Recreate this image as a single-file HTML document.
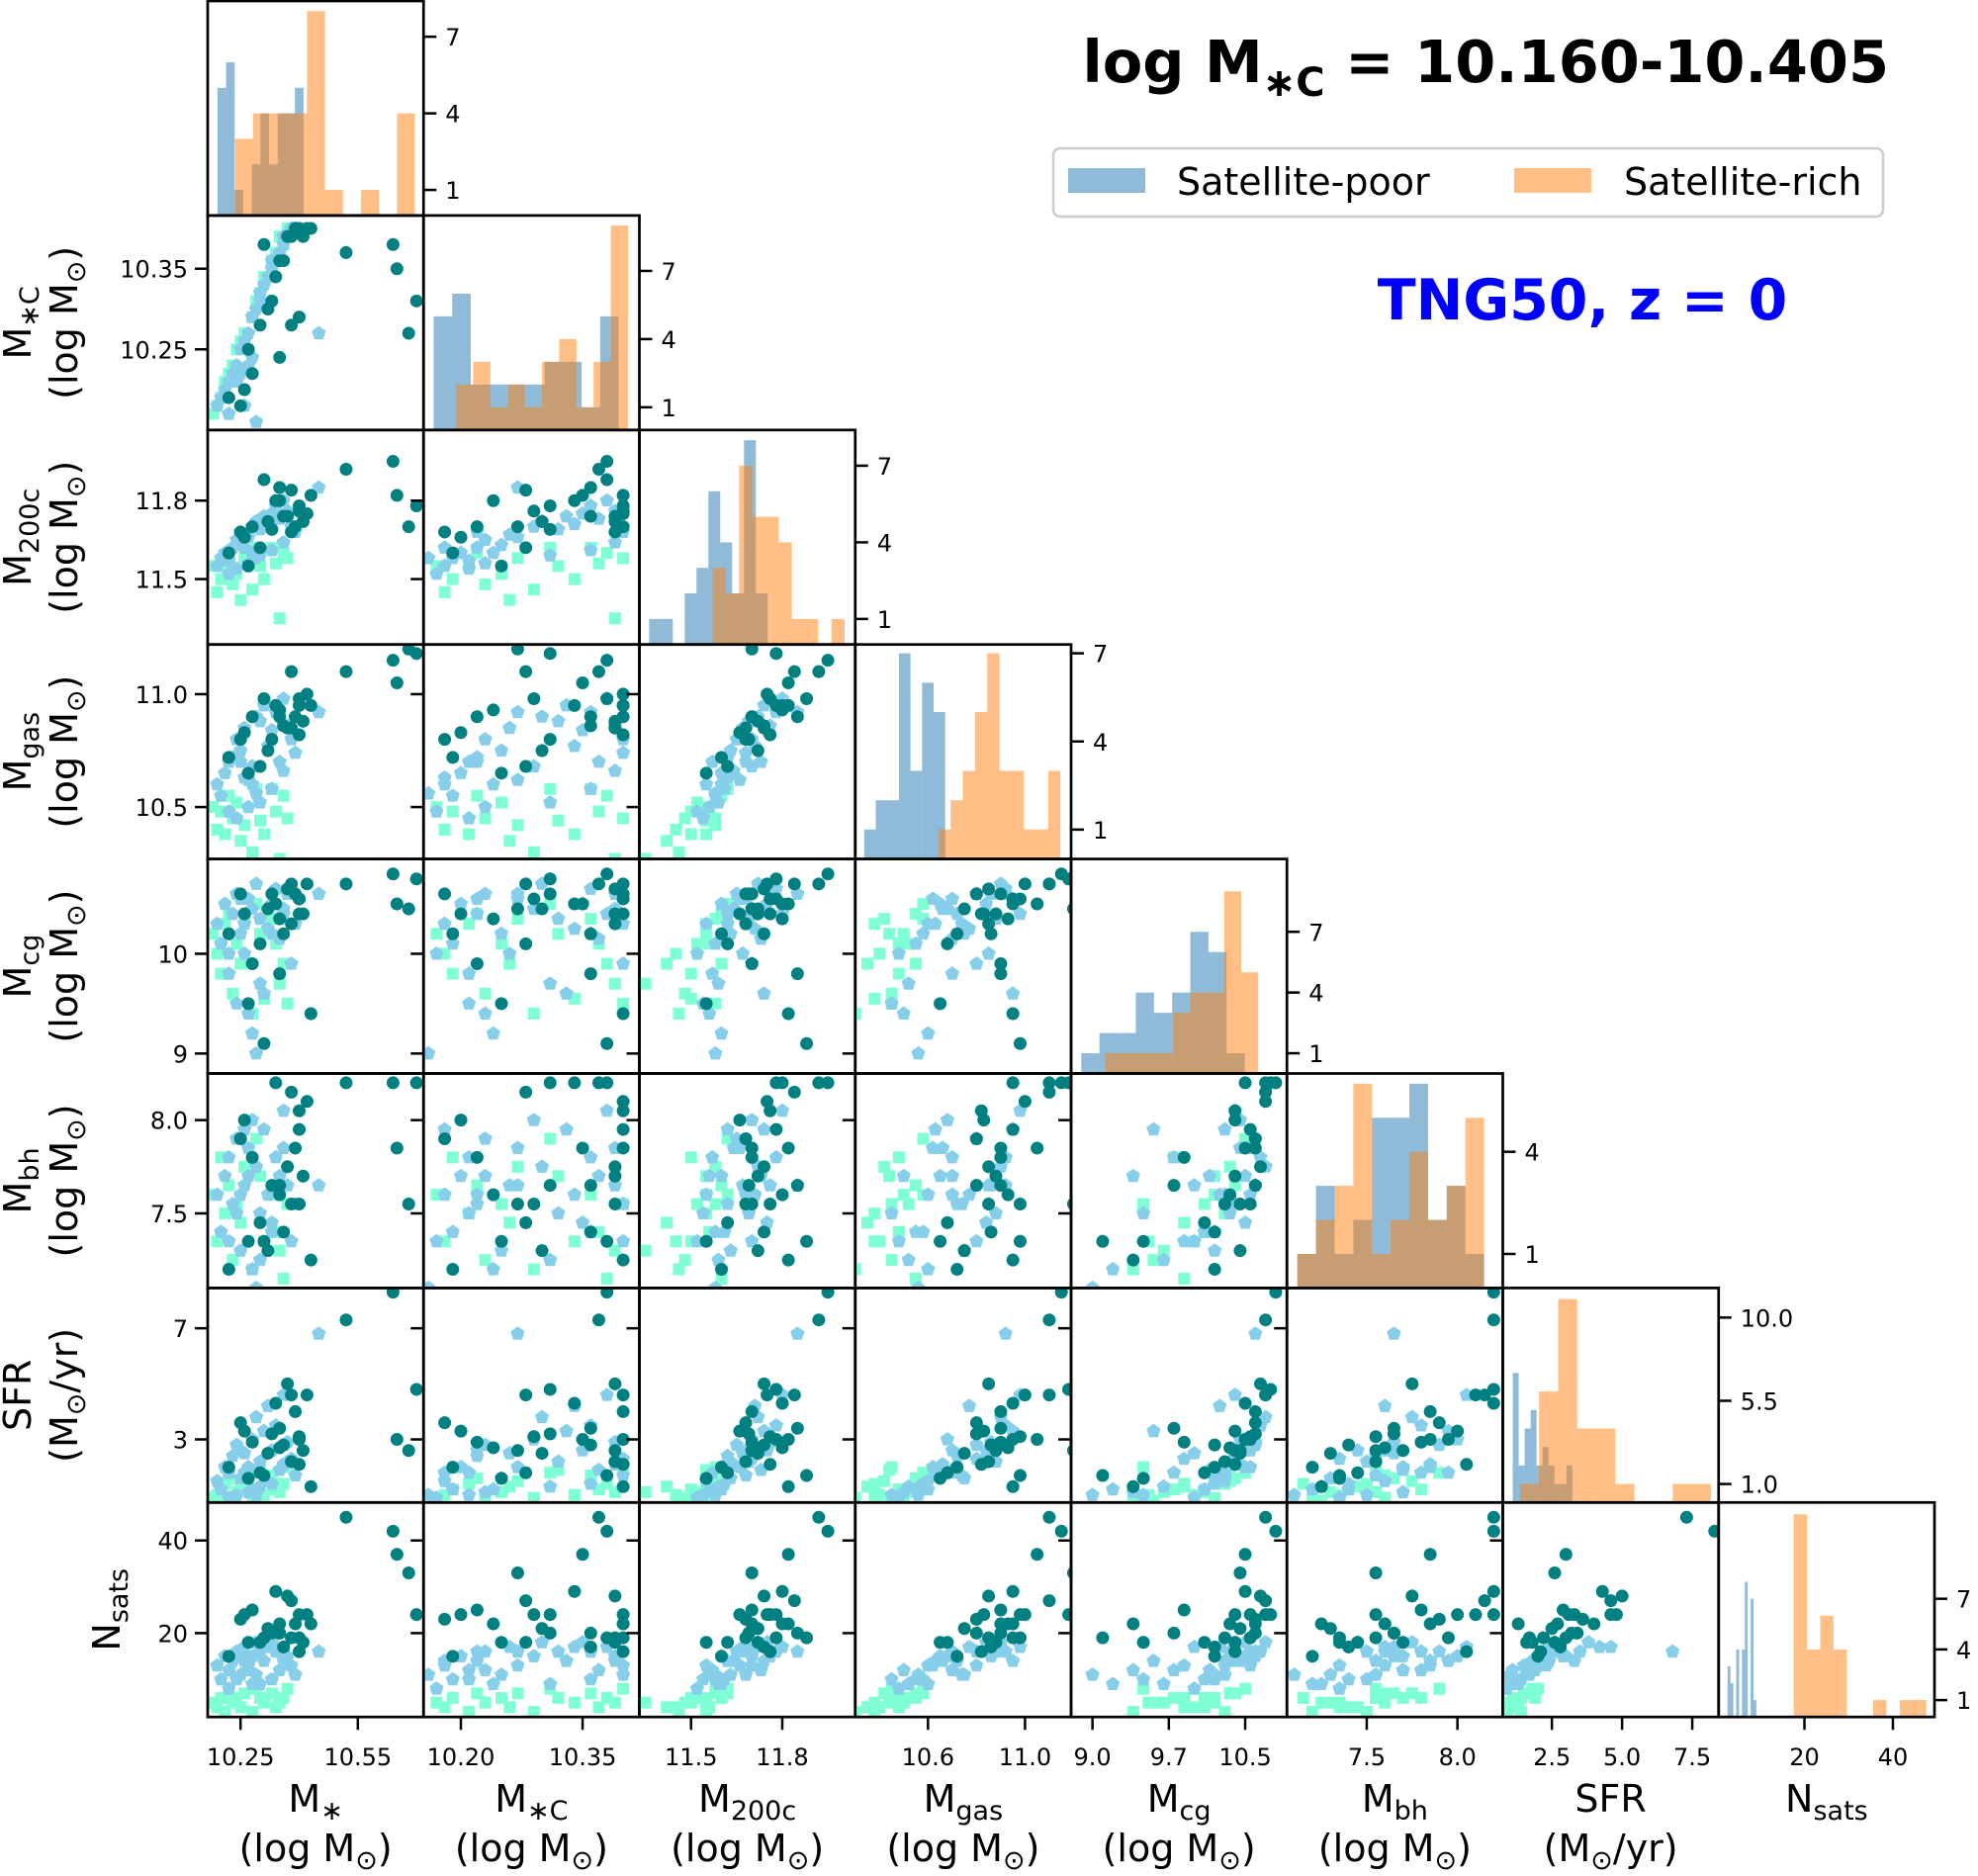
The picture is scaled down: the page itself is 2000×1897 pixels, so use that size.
<!DOCTYPE html>
<html><head><meta charset="utf-8"><style>
html,body{margin:0;padding:0;background:#fff;}
svg{display:block;font-family:"DejaVu Sans","Liberation Sans",sans-serif;}
</style></head><body>
<svg id="fig" xmlns="http://www.w3.org/2000/svg" width="2000" height="1897" viewBox="0 0 2000 1897">
<g id="panels"></g>
<text x="1910" y="83" text-anchor="end" font-size="59" font-weight="bold">log M<tspan font-size="40" dy="14">∗C</tspan><tspan dy="-14"> = 10.160-10.405</tspan></text>
<g>
<rect x="1065" y="150" width="839" height="69" rx="7" fill="#fff" stroke="#ccc" stroke-width="2.5"/>
<rect x="1080" y="170" width="78" height="25" fill="#1f77b4" opacity="0.5"/>
<text x="1190" y="197" font-size="38">Satellite-poor</text>
<rect x="1531" y="170" width="78" height="25" fill="#ff7f0e" opacity="0.5"/>
<text x="1642" y="197" font-size="38">Satellite-rich</text>
</g>
<text x="1600" y="323" text-anchor="middle" font-size="57" font-weight="bold" fill="#0000ff">TNG50, z = 0</text>
</svg>
<script>
// ---------- data ----------
const xRange = [[10.166,10.718],[10.154,10.42],[11.33,12.04],[10.30,11.19],[8.79,10.91],[7.06,8.25],[0.75,8.44],[0.6,49.4]];
const yRange = [[0,1],[10.15,10.416],[11.25,12.07],[10.27,11.22],[8.80,10.95],[7.10,8.25],[0.73,8.45],[1.9,48.2]];
const xTicks = [[10.25,10.55],[10.20,10.35],[11.5,11.8],[10.6,11.0],[9.0,9.75,10.5],[7.5,8.0],[2.5,5.0,7.5],[20,40]];
const xTickLabels = [["10.25","10.55"],["10.20","10.35"],["11.5","11.8"],["10.6","11.0"],["9.0","9.7","10.5"],["7.5","8.0"],["2.5","5.0","7.5"],["20","40"]];
const yTicks = [[],[10.25,10.35],[11.5,11.8],[10.5,11.0],[9,10],[7.5,8.0],[3,7],[20,40]];
const yTickLabels = [[],["10.25","10.35"],["11.5","11.8"],["10.5","11.0"],["9","10"],["7.5","8.0"],["3","7"],["20","40"]];
const histMax = [8.4,9.44,8.4,7.3,10.6,6.3,11.6,12.7];
const histTicks = [[1,4,7],[1,4,7],[1,4,7],[1,4,7],[1,4,7],[1,4],[1.0,5.5,10.0],[1,4,7]];
const histTickLabels = [["1","4","7"],["1","4","7"],["1","4","7"],["1","4","7"],["1","4","7"],["1","4"],["1.0","5.5","10.0"],["1","4","7"]];
const poorStart = [10.191,10.1665,11.362,10.337,8.89,7.117,1.104,2.62];
const poorWidth = [0.022,0.0228,0.039,0.0477,0.1785,0.103,0.2126,0.651];
const poorCounts = [[5,6,1,0,2,4,2,4,4,5],[5,6,2,2,2,2,3,3,1,5],[1,1,0,2,3,6,4,2,8,2],[1,2,2,7,3,6,5],[1,2,2,4,3,4,7,6,1],[1,3,1,2,5,5,6,2,3,1],[7,2,4,5,2,3,2,1,1,2],[3,2,0,4,0,4,8,0,7,1]];
const richStart = [10.236,10.194,11.571,10.643,9.125,7.117,1.363,17.58];
const richWidth = [0.046,0.0212,0.0434,0.0503,0.167,0.103,0.680,2.994];
const richCounts = [[3,4,4,4,8,1,0,1,0,4],[2,3,1,2,1,3,4,1,3,9],[3,2,7,5,5,4,1,1,0,1],[1,2,3,5,7,3,3,1,1,3],[1,1,1,1,3,4,4,9,5],[1,2,3,6,1,2,4,2,3,5],[1,6,11,4,4,1,0,0,1,1],[12,4,6,4,0,0,1,0,1,1]];

const tealMstar  = [10.40,10.41,10.39,10.42,10.38,10.36,10.34,10.33,10.32,10.30,10.28,10.26,10.22,10.25,10.27,10.38,10.40,10.35,10.52,10.64,10.65,10.70,10.68,10.31,10.43,10.37,10.35,10.40];
const tealMstarC = [10.40,10.39,10.40,10.40,10.39,10.36,10.34,10.31,10.30,10.28,10.22,10.20,10.19,10.18,10.25,10.28,10.29,10.24,10.37,10.38,10.35,10.31,10.27,10.38,10.40,10.39,10.36,10.40];
const tealM200c  = [11.78,11.72,11.70,11.75,11.68,11.74,11.80,11.69,11.72,11.62,11.70,11.66,11.60,11.68,11.55,11.84,11.76,11.80,11.92,11.95,11.82,11.78,11.70,11.88,11.82,11.74,11.85,11.76];
const tealMgas   = [10.95,10.88,10.90,11.00,10.85,10.86,10.95,10.80,10.75,10.68,10.90,10.83,10.72,10.80,10.65,11.10,10.98,10.93,11.10,11.15,11.05,11.18,11.20,10.98,10.95,10.85,10.90,10.82];
const tealMcg    = [10.55,10.40,10.60,10.70,10.30,10.20,10.50,10.60,10.45,10.10,9.90,10.40,10.20,10.60,9.50,10.70,10.55,10.35,10.70,10.80,10.50,10.75,10.45,9.10,9.40,10.65,9.80,10.40];
const tealMbh    = [7.95,7.70,7.85,8.10,7.55,7.40,8.20,7.65,7.30,7.45,7.80,8.00,7.20,7.90,7.35,8.15,7.55,7.60,8.20,8.20,7.85,8.20,7.55,7.35,7.25,7.75,7.65,8.05];
const tealSFR    = [3.0,2.6,4.0,4.6,2.2,2.8,4.3,3.2,2.5,1.8,2.9,3.3,2.0,3.6,1.6,4.6,3.1,2.7,7.3,8.3,3.0,4.8,2.6,1.7,1.3,5.0,3.4,2.1];
const tealNsats  = [19,18,22,24,19,17,29,20,21,18,25,24,15,23,18,27,24,22,45,42,37,24,33,19,22,28,20,16];

const blueMstar  = [10.19,10.20,10.21,10.22,10.23,10.24,10.25,10.26,10.27,10.28,10.29,10.30,10.31,10.32,10.33,10.34,10.35,10.36,10.37,10.38,10.39,10.36,10.33,10.30,10.27,10.24,10.28,10.26,10.22,10.25,10.45,10.29];
const blueMstarC = [10.18,10.19,10.20,10.21,10.22,10.23,10.25,10.26,10.27,10.29,10.30,10.32,10.33,10.34,10.35,10.36,10.37,10.38,10.39,10.40,10.40,10.39,10.36,10.31,10.23,10.21,10.24,10.18,10.17,10.22,10.27,10.16];
const blueM200c  = [11.55,11.58,11.60,11.57,11.62,11.65,11.63,11.67,11.66,11.70,11.72,11.69,11.74,11.71,11.75,11.78,11.73,11.80,11.76,11.70,11.68,11.64,11.61,11.59,11.56,11.54,11.60,11.62,11.52,11.68,11.85,11.58];
const blueMgas   = [10.60,10.55,10.65,10.70,10.72,10.80,10.75,10.85,10.62,10.68,10.90,10.88,10.95,10.77,10.84,10.92,10.70,10.98,10.86,10.80,10.74,10.66,10.58,10.52,10.50,10.45,10.60,10.63,10.48,10.70,10.92,10.56];
const blueMcg    = [10.30,10.10,10.50,9.80,10.40,10.60,10.20,10.00,10.55,10.45,10.70,10.35,9.60,10.25,10.50,10.65,10.15,10.40,10.60,9.90,10.30,10.45,10.20,9.70,9.40,9.50,9.20,10.30,10.00,10.55,10.60,9.00];
const blueMbh    = [7.60,7.40,7.70,7.80,7.55,7.90,7.30,7.65,7.85,8.00,7.75,7.50,7.95,7.60,7.45,7.80,7.70,8.05,7.65,7.35,7.55,7.85,7.40,7.25,7.70,7.50,7.20,7.95,7.35,7.60,7.65,7.10];
const blueSFR    = [1.5,1.2,2.0,1.8,2.4,2.8,1.6,2.5,2.0,3.0,3.8,2.2,3.3,4.2,2.6,3.5,1.9,4.6,2.9,2.3,1.7,2.1,1.4,1.3,1.1,1.0,1.2,1.8,0.9,2.6,6.8,1.0];
const blueNsats  = [13,10,15,12,14,16,11,17,13,15,18,16,14,17,18,16,12,17,15,13,11,14,10,9,12,10,9,14,8,16,16,11];

const aquaMstar  = [10.18,10.19,10.20,10.21,10.22,10.23,10.24,10.25,10.26,10.28,10.29,10.30,10.31,10.33,10.34,10.36,10.35,10.37];
const aquaMstarC = [10.17,10.18,10.19,10.21,10.22,10.23,10.25,10.26,10.27,10.29,10.31,10.32,10.34,10.36,10.37,10.38,10.39,10.40];
const aquaM200c  = [11.55,11.45,11.50,11.55,11.60,11.48,11.52,11.42,11.58,11.46,11.62,11.55,11.50,11.62,11.56,11.60,11.35,11.58];
const aquaMgas   = [10.50,10.40,10.48,10.38,10.55,10.45,10.52,10.35,10.42,10.30,10.58,10.44,10.38,10.58,10.48,10.55,10.27,10.45];
const aquaMcg    = [10.20,10.00,9.80,10.30,10.40,9.60,10.10,9.90,10.35,9.40,10.50,10.20,9.55,10.35,10.10,9.90,9.70,9.50];
const aquaMbh    = [7.60,7.35,7.80,7.50,7.65,7.25,7.55,7.45,7.75,7.20,7.90,7.70,7.35,7.60,7.40,7.15,7.30,7.55];
const aquaSFR    = [0.9,1.0,1.2,1.4,1.6,0.8,1.1,1.3,1.5,0.9,1.8,1.9,1.0,1.7,1.2,1.4,1.1,2.0];
const aquaNsats  = [5,4,6,3,7,5,6,4,7,3,8,6,5,7,4,6,5,8];

const tealVars = [tealMstar,tealMstarC,tealM200c,tealMgas,tealMcg,tealMbh,tealSFR,tealNsats];
const blueVars = [blueMstar,blueMstarC,blueM200c,blueMgas,blueMcg,blueMbh,blueSFR,blueNsats];
const aquaVars = [aquaMstar,aquaMstarC,aquaM200c,aquaMgas,aquaMcg,aquaMbh,aquaSFR,aquaNsats];

// ---------- layout ----------
const NS = "http://www.w3.org/2000/svg";
const X0 = 210, Y0 = 1, CW = 218.25, CH = 216.9, N = 8;
const root = document.getElementById('panels');
function mk(tag, attrs, parent){ const e=document.createElementNS(NS,tag); for(const k in attrs) e.setAttribute(k,attrs[k]); (parent||root).appendChild(e); return e; }
function sx(j,v){ const r=xRange[j]; return X0+j*CW+(v-r[0])/(r[1]-r[0])*CW; }
function sy(i,v){ const r=yRange[i]; return Y0+(i+1)*CH-(v-r[0])/(r[1]-r[0])*CH; }
function hy(i,c){ return Y0+(i+1)*CH-c/histMax[i]*CH; }
const labelsXA = [["M","∗",""],["M","∗C",""],["M","200c",""],["M","gas",""],["M","cg",""],["M","bh",""],["SFR","",""],["N","sats",""]];

function pentagon(cx,cy,r){ let p=[]; for(let k=0;k<5;k++){ const a=-Math.PI/2+k*2*Math.PI/5; p.push((cx+r*Math.cos(a)).toFixed(1)+','+(cy+r*Math.sin(a)).toFixed(1)); } return p.join(' '); }

for(let i=0;i<N;i++){
  for(let j=0;j<=i;j++){
    const L=X0+j*CW, T=Y0+i*CH;
    const g=mk('g',{});
    
    
    const cid='clip'+i+'_'+j;
    const cp=mk('clipPath',{id:cid},g); mk('rect',{x:L,y:T,width:CW,height:CH},cp);
    const inner=mk('g',{'clip-path':'url(#'+cid+')'},g);
    if(i===j){
      const pc=poorCounts[i], rc=richCounts[i];
      for(let k=0;k<pc.length;k++){ if(!pc[k]) continue;
        const x1=sx(j,poorStart[i]+k*poorWidth[i]), x2=sx(j,poorStart[i]+(k+1)*poorWidth[i]);
        const b=mk('rect',{x:x1,y:hy(i,pc[k]),width:x2-x1,height:hy(i,0)-hy(i,pc[k]),fill:'#1f77b4',opacity:0.5},inner);
        
        
      }
      for(let k=0;k<rc.length;k++){ if(!rc[k]) continue;
        const x1=sx(j,richStart[i]+k*richWidth[i]), x2=sx(j,richStart[i]+(k+1)*richWidth[i]);
        const b=mk('rect',{x:x1,y:hy(i,rc[k]),width:x2-x1,height:hy(i,0)-hy(i,rc[k]),fill:'#ff7f0e',opacity:0.5},inner);
        
        
      }
      histTicks[i].forEach((t,k)=>{ const y=hy(i,t);
        mk('line',{x1:L+CW,x2:L+CW+13,y1:y,y2:y,stroke:'#000','stroke-width':2.5},g);
        const tx=mk('text',{x:L+CW+22,y:y+9,'font-size':24},g); tx.textContent=histTickLabels[i][k];
        
        
      });
    } else {
      aquaVars[j].forEach((v,k)=>{ const cx=sx(j,v), cy=sy(i,aquaVars[i][k]);
        const m=mk('rect',{x:cx-6,y:cy-6,width:12,height:12,fill:'#7fffd4'},inner);
        
        
      });
      blueVars[j].forEach((v,k)=>{ const cx=sx(j,v), cy=sy(i,blueVars[i][k]);
        const m=mk('polygon',{points:pentagon(cx,cy,7.5),fill:'#87ceeb'},inner);
        
        
      });
      tealVars[j].forEach((v,k)=>{ const cx=sx(j,v), cy=sy(i,tealVars[i][k]);
        const m=mk('circle',{cx:cx,cy:cy,r:6.5,fill:'#008080'},inner);
        
        
      });
      yTicks[i].forEach((t,k)=>{ const y=sy(i,t);
        mk('line',{x1:L-13,x2:L,y1:y,y2:y,stroke:'#000','stroke-width':2.5},g);
        if(j===0){ const tx=mk('text',{x:L-20,y:y+9,'font-size':24,'text-anchor':'end'},g); tx.textContent=yTickLabels[i][k];
          
           }
      });
    }
    mk('rect',{x:L,y:T,width:CW,height:CH,fill:'none',stroke:'#000','stroke-width':2.7},g);
    if(i===N-1){
      xTicks[j].forEach((t,k)=>{ const x=sx(j,t);
        mk('line',{x1:x,x2:x,y1:T+CH,y2:T+CH+13,stroke:'#000','stroke-width':2.5},g);
        const tx=mk('text',{x:x,y:1785,'font-size':24,'text-anchor':'middle'},g); tx.textContent=xTickLabels[j][k];
        
        
      });
    }
  }
}
const units = ["(log M","(log M","(log M","(log M","(log M","(log M","(M",null];
const unitTail = [")",")",")",")",")",")","/yr)",null];
for(let j=0;j<N;j++){
  const cx=X0+j*CW+CW/2;
  const t=mk('text',{x:cx,y:1832,'font-size':38,'text-anchor':'middle'});
  
  
  t.innerHTML=labelsXA[j][0]+(labelsXA[j][1]?'<tspan font-size="27" dy="8">'+labelsXA[j][1]+'</tspan>':'');
  if(units[j]){
    const u=mk('text',{x:cx,y:1882,'font-size':38,'text-anchor':'middle'});
    
    
    u.innerHTML=units[j]+'<tspan font-size="27" dy="8">⊙</tspan><tspan dy="-8">'+unitTail[j]+'</tspan>';
  }
}
for(let i=1;i<N;i++){
  const cy=Y0+i*CH+CH/2;
  const two = units[i]!==null;
  const x1 = two ? 18 : 108;
  const t=mk('text',{x:0,y:0,'font-size':38,'text-anchor':'middle',transform:'translate('+(x1+13)+','+cy+') rotate(-90)'});
  
  
  t.innerHTML=labelsXA[i][0]+(labelsXA[i][1]?'<tspan font-size="27" dy="8">'+labelsXA[i][1]+'</tspan>':'');
  if(two){
    const u=mk('text',{x:0,y:0,'font-size':38,'text-anchor':'middle',transform:'translate('+(x1+60)+','+cy+') rotate(-90)'});
    
    
    u.innerHTML=units[i]+'<tspan font-size="27" dy="8">⊙</tspan><tspan dy="-8">'+unitTail[i]+'</tspan>';
  }
}
</script>
</body></html>
